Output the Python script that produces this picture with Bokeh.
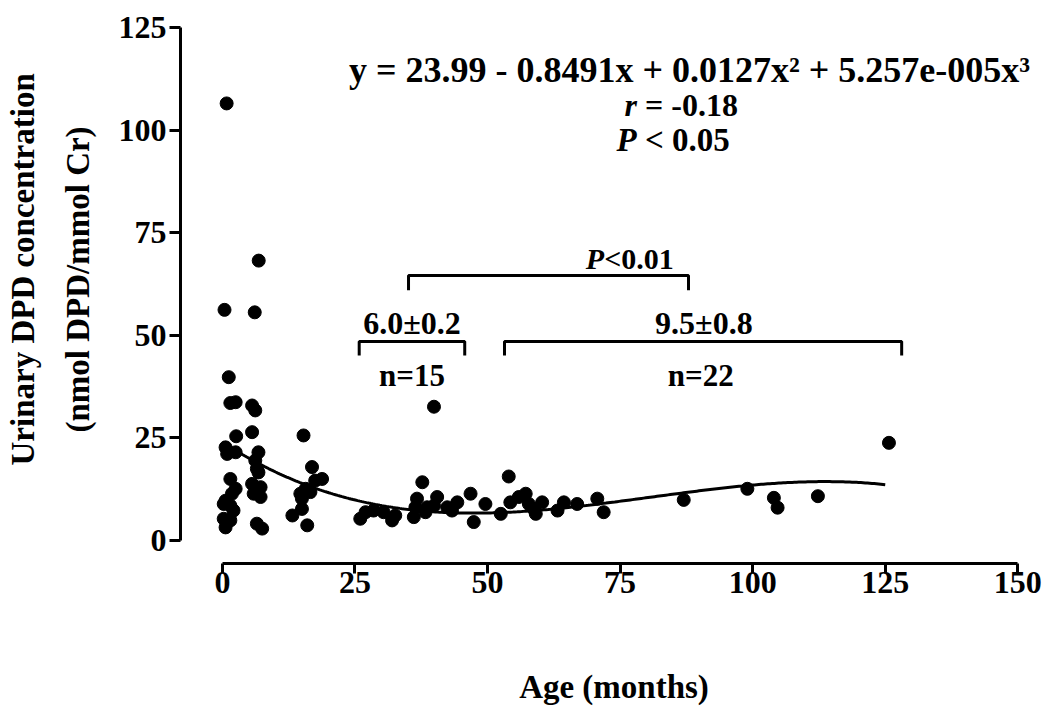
import numpy as np
from bokeh.plotting import figure
from bokeh.models import Range1d, Label, FixedTicker, Title
from bokeh.embed import file_html
from bokeh.resources import INLINE

# ---- data ----
age = [0.8, 0.4, 6.1, 6.85, 1.2, 1.5, 2.5, 5.6, 6.2, 2.6, 5.6,
       0.6, 2.5, 0.9, 6.8, 6.2, 6.5, 6.8, 1.5, 5.6, 7.2, 5.9, 7.2,
       2.5, 1.8, 0.6, 1.5, 0.25, 0.25, 1.5, 0.6, 6.5, 7.5, 2.1,
       15.3, 16.9, 18.8, 17.5, 15.7, 16.6, 14.7, 15.0, 15.0, 13.2, 16.0,
       26.0, 27.0, 28.5, 30.4, 32.0, 32.6, 36.1, 36.4, 36.7, 37.7, 38.3,
       38.6, 39.9, 40.5, 39.9, 42.4, 43.3, 44.3, 46.8, 47.4, 49.6, 52.5,
       54.0, 54.3, 55.9, 57.2, 57.8, 58.7, 59.1, 60.3, 63.2, 64.4, 66.9,
       70.7, 71.9, 87.0, 99.0, 104.0, 104.7, 112.3, 125.7]
dpd = [106.5, 56.2, 55.6, 68.2, 39.8, 33.5, 33.7, 32.9, 31.7, 25.4, 26.4,
       22.7, 21.5, 21.1, 21.5, 19.5, 17.5, 16.6, 15.0, 13.8, 13.0, 11.4, 10.6,
       12.6, 11.4, 9.7, 8.5, 8.9, 5.3, 4.9, 3.2, 4.1, 2.9, 7.3,
       25.6, 17.9, 15.0, 14.6, 12.6, 11.8, 11.4, 10.2, 7.7, 6.1, 3.7,
       5.3, 6.9, 7.3, 6.9, 4.9, 6.1, 5.7, 8.1, 10.2, 14.2, 6.9,
       8.1, 8.5, 10.6, 32.6, 8.1, 7.3, 9.3, 11.4, 4.5, 8.9, 6.5,
       15.6, 9.3, 10.6, 11.4, 8.9, 7.7, 6.5, 9.3, 7.3, 9.3, 8.9,
       10.2, 6.9, 9.9, 12.6, 10.4, 8.0, 10.8, 23.8]

x_ticks = [0, 25, 50, 75, 100, 125, 150]
y_ticks = [0, 25, 50, 75, 100, 125]

# cubic fit coefficients (c0 + c1 x + c2 x^2 + c3 x^3) as drawn
fit_coef = [23.99, -0.8491, 0.0127, -5.257e-05]
fit_x_end = 125.0

# brackets: left, right, height, leg drop
bracket_x0 = [25.8, 53.2, 35.1]
bracket_x1 = [45.7, 128.1, 87.9]
bracket_y = [48.5, 48.5, 64.6]
bracket_drop = [3.4, 3.4, 3.6]

group_mean_text = ["6.0\u00b10.2", "9.5\u00b10.8"]
group_n_text = ["n=15", "n=22"]

FONT = "Liberation Serif"

p = figure(width=1047, height=709,
           x_range=Range1d(-7.9, 155.6), y_range=Range1d(-5.6, 125),
           output_backend="svg", toolbar_location=None,
           min_border_left=180, min_border_right=0,
           min_border_top=27, min_border_bottom=146)
p.outline_line_color = None
p.grid.visible = False
p.background_fill_color = "white"
p.border_fill_color = "white"

for ax, ticks, bnds in ((p.xaxis, x_ticks, (0, 150)), (p.yaxis, y_ticks, (0, 125))):
    ax.ticker = FixedTicker(ticks=ticks)
    ax.bounds = bnds
    ax.axis_line_width = 3
    ax.axis_line_color = "black"
    ax.major_tick_line_width = 3
    ax.major_tick_line_color = "black"
    ax.major_tick_in = 0
    ax.minor_tick_line_color = None
    ax.major_label_text_font = FONT
    ax.major_label_text_font_style = "bold"
    ax.major_label_text_font_size = "32px"
    ax.major_label_text_color = "black"
p.xaxis.major_tick_out = 10
p.xaxis.major_label_standoff = -2
p.yaxis.major_tick_out = 11
p.yaxis.major_label_standoff = 3

# x axis title
p.xaxis.axis_label = "Age (months)"
p.xaxis.axis_label_text_font = FONT
p.xaxis.axis_label_text_font_style = "bold"
p.xaxis.axis_label_text_font_size = "33px"
p.xaxis.axis_label_text_color = "black"
p.xaxis.axis_label_standoff = 73

# fitted curve
fx = np.linspace(0, fit_x_end, 300)
fy = sum(c * fx ** i for i, c in enumerate(fit_coef))
p.line(fx, fy, line_width=3, line_color="black")

# points
p.scatter(age, dpd, size=13, fill_color="black", line_color="black")

# brackets
bxs = [[a, a, b, b] for a, b in zip(bracket_x0, bracket_x1)]
bys = [[y - d, y, y, y - d] for y, d in zip(bracket_y, bracket_drop)]
p.multi_line(bxs, bys, line_width=3, line_color="black")


def lab(x, y, text, size="31px", style="bold", align="center"):
    p.add_layout(Label(x=x, y=y, text=text, text_font=FONT,
                       text_font_style=style, text_font_size=size,
                       text_align=align, text_baseline="middle",
                       text_color="black"))


# bracket texts
lab((bracket_x0[0] + bracket_x1[0]) / 2, 53.1, group_mean_text[0], size="32px")
lab(90.8, 53.1, group_mean_text[1], size="32px")
lab((bracket_x0[0] + bracket_x1[0]) / 2, 40.2, group_n_text[0])
lab(90.2, 40.2, group_n_text[1])
lab(72.0, 68.7, "P", style="bold italic", align="right", size="30px")
lab(72.0, 68.7, "<0.01", align="left", size="30px")

# equation and statistics
lab(88.1, 114.7, "y = 23.99 - 0.8491x + 0.0127x\u00b2 + 5.257e-005x\u00b3", size="36px")
lab(78.2, 106.2, "r", style="bold italic", align="right", size="32px")
lab(79.7, 106.2, "= -0.18", align="left", size="32px")
lab(78.1, 97.6, "P", style="bold italic", align="right", size="33px")
lab(79.7, 97.6, "< 0.05", align="left", size="33px")


def side_title(text, offset, standoff, size="33px"):
    p.add_layout(Title(text=text, align="left", offset=offset, standoff=standoff,
                       text_font=FONT, text_font_style="bold",
                       text_font_size=size, text_color="black"), "left")


# y axis title (two lines)
side_title("(nmol DPD/mmol Cr)", 131, 40)
side_title("Urinary DPD concentration", 98, -6)

open("out.html", "w").write(file_html(p, INLINE))
